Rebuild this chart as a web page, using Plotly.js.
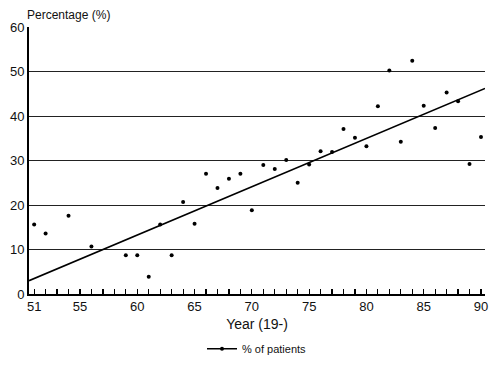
<!DOCTYPE html>
<html>
<head>
<meta charset="utf-8">
<script src="https://cdn.plot.ly/plotly-3.0.1.min.js"></script>
<style>html,body{margin:0;padding:0;background:#fff;}#chart{width:490px;height:368px;}</style>
</head>
<body>
<div id="chart"></div>
<script>
// Data
const years = [51, 52, 54, 56, 59, 60, 61, 62, 63, 64, 65, 66, 67, 68, 69, 70, 71, 72, 73, 74,
               75, 76, 77, 78, 79, 80, 81, 82, 83, 84, 85, 86, 87, 88, 89, 90];
const percentPatients = [15.6, 13.6, 17.6, 10.7, 8.7, 8.7, 3.9, 15.6, 8.7, 20.7, 15.8, 27.0, 23.8, 25.9, 27.0, 18.8, 29.0, 28.1, 30.1, 25.0,
                         29.1, 32.1, 31.9, 37.1, 35.1, 33.2, 42.2, 50.2, 34.2, 52.4, 42.3, 37.3, 45.3, 43.3, 29.2, 35.3];
// Fitted trend line end points as drawn in the reference
const trendYears = [50.55, 90.35];
const trendValues = [3.0, 46.2];
// Axis tick labels (a tick at every year, labels on some)
const xLabelled = ['51', '55', '60', '65', '70', '75', '80', '85', '90'];
const xTickFirst = 51, xTickLast = 90;
const yTickVals = [0, 10, 20, 30, 40, 50, 60];
const seriesName = '% of patients';

const xTickVals = [], xTickText = [];
for (let t = xTickFirst; t <= xTickLast; t++) {
  xTickVals.push(t);
  xTickText.push(xLabelled.includes(String(t)) ? String(t) : '');
}

const FONT = 'Liberation Sans, Arial, Helvetica, sans-serif';

const traces = [
  {
    x: trendYears, y: trendValues, type: 'scatter', mode: 'lines',
    line: {color: '#000', width: 1.6}, showlegend: false, hoverinfo: 'skip'
  },
  {
    x: years, y: percentPatients, type: 'scatter', mode: 'markers',
    marker: {color: '#000', size: 4}, showlegend: false, name: seriesName
  },
  {
    x: [null], y: [null], type: 'scatter', mode: 'lines+markers',
    line: {color: '#000', width: 1.3}, marker: {color: '#000', size: 4},
    name: seriesName, showlegend: true
  }
];

const layout = {
  width: 490, height: 368,
  margin: {l: 29, r: 5, t: 27, b: 71},
  paper_bgcolor: '#fff', plot_bgcolor: '#fff',
  font: {family: FONT, color: '#111', size: 13},
  showlegend: true,
  legend: {
    orientation: 'h', x: 0.5, xanchor: 'center', y: -0.205, yanchor: 'middle',
    font: {family: FONT, size: 11, color: '#111'}, itemwidth: 30, bgcolor: 'rgba(0,0,0,0)'
  },
  xaxis: {
    range: [50.55, 90.35], automargin: false,
    tickmode: 'array', tickvals: xTickVals, ticktext: xTickText,
    ticks: 'inside', ticklen: 5, tickwidth: 1.2, tickcolor: '#000',
    ticklabeloverflow: 'allow',
    showline: true, linecolor: '#000', linewidth: 1.6,
    showgrid: false, zeroline: false,
    tickfont: {family: FONT, size: 13, color: '#111'},
    title: {text: 'Year (19-)', font: {family: FONT, size: 14, color: '#111'}, standoff: 6},
    fixedrange: true
  },
  yaxis: {
    range: [0, 60], automargin: false,
    tickmode: 'array', tickvals: yTickVals,
    ticks: '', showline: true, linecolor: '#000', linewidth: 2,
    showgrid: true, gridcolor: '#222', gridwidth: 1,
    zeroline: false,
    tickfont: {family: FONT, size: 13, color: '#111'},
    fixedrange: true
  },
  annotations: [
    {
      text: 'Percentage (%)', xref: 'paper', yref: 'paper', x: 0, y: 1,
      xanchor: 'left', yanchor: 'bottom', xshift: -4, yshift: 3, showarrow: false,
      font: {family: FONT, size: 12, color: '#111'}
    }
  ]
};

Plotly.newPlot('chart', traces, layout, {displayModeBar: false, staticPlot: true});
</script>
</body>
</html>
